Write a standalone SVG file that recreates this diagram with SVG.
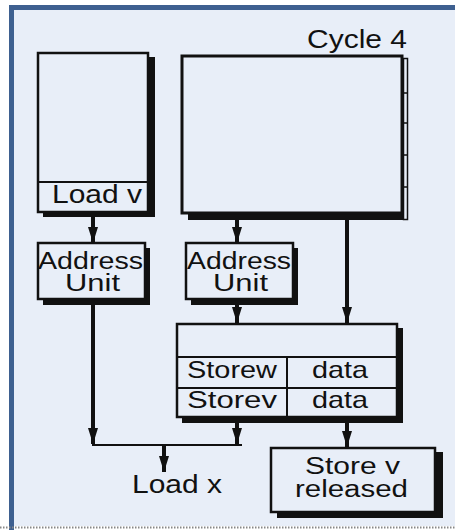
<svg xmlns="http://www.w3.org/2000/svg" width="455" height="530" viewBox="0 0 455 530">
<style>
.box{fill:#e8eef8;stroke:#111;stroke-width:2.5}
.sh{fill:#111}
.ln{fill:none;stroke:#111;stroke-width:2}
.w{stroke:#111;stroke-width:4;fill:none}
.t{font-family:"Liberation Sans",Arial,sans-serif;fill:#111;font-size:25px}
.t2{font-size:23px}
</style>
<defs>
<marker id="ah" viewBox="0 -5 16 10" refX="16" refY="0" markerWidth="16" markerHeight="10" markerUnits="userSpaceOnUse" orient="auto">
<path d="M0,-5 L16,0 L0,5 Z" fill="#111"/>
</marker>
</defs>
<rect x="0" y="0" width="455" height="530" fill="#ffffff"/>
<rect x="14" y="10" width="441" height="516" fill="#e8eef8"/>
<rect x="9" y="5" width="5" height="525" fill="#3e6090"/>
<rect x="9" y="5" width="446" height="5" fill="#3e6090"/>
<line x1="0" y1="527.5" x2="455" y2="527.5" stroke="#888" stroke-width="2" stroke-dasharray="1.5,1.5"/>

<text class="t" x="307" y="48" textLength="100" lengthAdjust="spacingAndGlyphs">Cycle 4</text>

<g id="loadv">
<rect class="sh" x="43" y="57" width="112" height="160"/>
<rect class="box" x="38" y="53" width="110" height="159"/>
<line class="ln" x1="38" y1="182" x2="148" y2="182"/>
<text class="t" x="52" y="203" textLength="90" lengthAdjust="spacingAndGlyphs">Load v</text>
</g>

<g id="bigbox">
<rect class="sh" x="188" y="213" width="220" height="7"/>
<rect x="403.5" y="58.5" width="4" height="161" fill="#e8eef8" stroke="#111" stroke-width="1.5"/>
<g stroke="#111" stroke-width="1.5">
<line x1="403" y1="93" x2="408" y2="93"/>
<line x1="403" y1="123" x2="408" y2="123"/>
<line x1="403" y1="155" x2="408" y2="155"/>
<line x1="403" y1="187" x2="408" y2="187"/>
</g>
<rect x="182" y="56" width="220" height="157" fill="#e8eef8" stroke="#111" stroke-width="3"/>
</g>

<g id="au1">
<rect class="sh" x="43" y="248" width="107" height="57"/>
<rect class="box" x="38" y="243" width="107" height="56"/>
<text class="t t2" x="38" y="269" textLength="105" lengthAdjust="spacingAndGlyphs">Address</text>
<text class="t t2" x="65" y="291" textLength="55" lengthAdjust="spacingAndGlyphs">Unit</text>
</g>

<g id="au2">
<rect class="sh" x="191" y="248" width="107" height="57"/>
<rect class="box" x="186" y="243" width="107" height="56"/>
<text class="t t2" x="187" y="269" textLength="104" lengthAdjust="spacingAndGlyphs">Address</text>
<text class="t t2" x="213" y="291" textLength="55" lengthAdjust="spacingAndGlyphs">Unit</text>
</g>

<g id="table">
<rect class="sh" x="182" y="328" width="221" height="95"/>
<rect class="box" x="177" y="324" width="220" height="93"/>
<line class="ln" x1="177" y1="357" x2="397" y2="357"/>
<line class="ln" x1="177" y1="388" x2="397" y2="388"/>
<line class="ln" x1="287" y1="357" x2="287" y2="417"/>
<text class="t" style="font-size:24px" x="187" y="378" textLength="90" lengthAdjust="spacingAndGlyphs">Storew</text>
<text class="t" style="font-size:24px" x="312" y="378" textLength="56" lengthAdjust="spacingAndGlyphs">data</text>
<text class="t" style="font-size:24px" x="187" y="408" textLength="90" lengthAdjust="spacingAndGlyphs">Storev</text>
<text class="t" style="font-size:24px" x="312" y="408" textLength="56" lengthAdjust="spacingAndGlyphs">data</text>
</g>

<g id="released">
<rect class="sh" x="277" y="452" width="166" height="66"/>
<rect class="box" x="271" y="448" width="164" height="64"/>
<text class="t t2" x="305" y="474" textLength="95" lengthAdjust="spacingAndGlyphs">Store v</text>
<text class="t t2" x="295" y="497" textLength="113" lengthAdjust="spacingAndGlyphs">released</text>
</g>

<g id="loadx">
<text class="t" x="132" y="493" textLength="90" lengthAdjust="spacingAndGlyphs">Load x</text>
</g>

<g id="connectors">
<line class="w" x1="93" y1="217" x2="93" y2="243" marker-end="url(#ah)"/>
<line class="w" x1="237" y1="220" x2="237" y2="243" marker-end="url(#ah)"/>
<line class="w" x1="347" y1="220" x2="347" y2="323" marker-end="url(#ah)"/>
<line class="w" x1="237" y1="305" x2="237" y2="323" marker-end="url(#ah)"/>
<line class="w" x1="93" y1="305" x2="93" y2="444" marker-end="url(#ah)"/>
<line class="w" x1="237" y1="423" x2="237" y2="444" marker-end="url(#ah)"/>
<line class="ln" x1="92" y1="445" x2="242" y2="445"/>
<line class="w" x1="164" y1="445" x2="164" y2="472" marker-end="url(#ah)"/>
<line class="w" x1="347" y1="423" x2="347" y2="447" marker-end="url(#ah)"/>
</g>
</svg>
